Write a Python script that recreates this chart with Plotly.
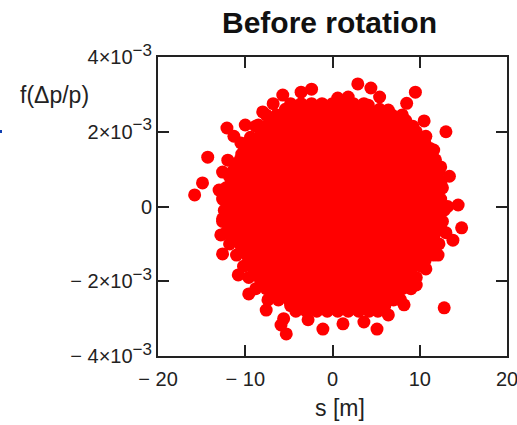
import plotly.graph_objects as go

title = "Before rotation"
x_label = "s [m]"
y_label = "f(Δp/p)"
sup = "<sup><span style='font-size:17px'>−3</span></sup>"
x_ticks = [-20, -10, 0, 10, 20]
x_tick_text = ["− 20", "− 10", "0", "10", "20"]
y_ticks = [-0.004, -0.002, 0, 0.002, 0.004]
y_tick_text = ["− 4×10" + sup, "− 2×10" + sup, "0", "2×10" + sup, "4×10" + sup]

# edge particles (s in m, f in units of 1e-3)
edge_s = [-12.1, -11.3, -10.5, -14.3, -14.9, -15.8, -13.0, -12.6, -12.0, -8.5, -10.0, -8.0,
          -5.7, -3.6, -2.4, 0.6, 1.8, 2.9, 4.4, 5.4, 4.1, 6.4, 8.5, 9.5, 10.5, 10.7, 13.0,
          11.6, 12.4, 13.4, 14.4, 13.2, 14.8, 13.8, 12.1, 10.7, 9.6, 8.2, 6.4, 5.1, 3.6, 1.2,
          -1.1, -2.8, -5.6, -5.9, -5.3, 12.8, -7.6, -9.6, -10.8, -12.6, -12.8, -12.6, -6.8]
edge_f = [2.10, 1.88, 1.70, 1.32, 0.63, 0.31, 0.44, 0.92, 1.24, 2.18, 2.18, 2.53,
          2.98, 3.06, 3.14, 2.90, 2.93, 3.28, 3.17, 2.93, 2.71, 2.58, 2.76, 3.06, 2.29, 1.88, 2.00,
          1.51, 1.06, 0.81, 0.04, 0.00, -0.57, -0.90, -1.30, -1.67, -2.10, -2.63, -2.90, -3.28, -3.09, -3.14,
          -3.28, -3.03, -3.00, -3.17, -3.41, -2.71, -2.77, -2.34, -1.83, -1.27, -0.76, -0.33, 2.75]

# body of the cloud, one list of s values per level of f
core_levels = [2.6, 2.3, 2.0, 1.7, 1.4, 1.1, 0.8, 0.5, 0.2, -0.1, -0.4, -0.7, -1.0, -1.3, -1.6, -1.9, -2.2, -2.5, -2.8]
core_s = [
    [-5.4, -4.2, -3.0, -1.8, -0.6, 0.6, 1.8, 3.0, 4.2, 5.4],
    [-7.0, -5.8, -4.6, -3.4, -2.2, -1.0, 0.2, 1.4, 2.6, 3.8, 5.0, 6.2, 7.4, 8.4],
    [-8.2, -7.0, -5.8, -4.6, -3.4, -2.2, -1.0, 0.2, 1.4, 2.6, 3.8, 5.0, 6.2, 7.4, 8.6, 9.6],
    [-9.4, -8.2, -7.0, -5.8, -4.6, -3.4, -2.2, -1.0, 0.2, 1.4, 2.6, 3.8, 5.0, 6.2, 7.4, 8.6, 9.8, 10.6],
    [-10.4, -9.2, -8.0, -6.8, -5.6, -4.4, -3.2, -2.0, -0.8, 0.4, 1.6, 2.8, 4.0, 5.2, 6.4, 7.6, 8.8, 10.0, 11.0],
    [-11.0, -9.8, -8.6, -7.4, -6.2, -5.0, -3.8, -2.6, -1.4, -0.2, 1.0, 2.2, 3.4, 4.6, 5.8, 7.0, 8.2, 9.4, 10.6, 11.6],
    [-11.8, -10.6, -9.4, -8.2, -7.0, -5.8, -4.6, -3.4, -2.2, -1.0, 0.2, 1.4, 2.6, 3.8, 5.0, 6.2, 7.4, 8.6, 9.8, 11.0, 12.0],
    [-12.2, -11.0, -9.8, -8.6, -7.4, -6.2, -5.0, -3.8, -2.6, -1.4, -0.2, 1.0, 2.2, 3.4, 4.6, 5.8, 7.0, 8.2, 9.4, 10.6, 11.8, 12.6],
    [-12.6, -11.4, -10.2, -9.0, -7.8, -6.6, -5.4, -4.2, -3.0, -1.8, -0.6, 0.6, 1.8, 3.0, 4.2, 5.4, 6.6, 7.8, 9.0, 10.2, 11.4, 12.4],
    [-12.4, -11.2, -10.0, -8.8, -7.6, -6.4, -5.2, -4.0, -2.8, -1.6, -0.4, 0.8, 2.0, 3.2, 4.4, 5.6, 6.8, 8.0, 9.2, 10.4, 11.6, 12.8],
    [-12.6, -11.4, -10.2, -9.0, -7.8, -6.6, -5.4, -4.2, -3.0, -1.8, -0.6, 0.6, 1.8, 3.0, 4.2, 5.4, 6.6, 7.8, 9.0, 10.2, 11.4, 12.6],
    [-12.2, -11.0, -9.8, -8.6, -7.4, -6.2, -5.0, -3.8, -2.6, -1.4, -0.2, 1.0, 2.2, 3.4, 4.6, 5.8, 7.0, 8.2, 9.4, 10.6, 11.8, 13.0],
    [-11.8, -10.6, -9.4, -8.2, -7.0, -5.8, -4.6, -3.4, -2.2, -1.0, 0.2, 1.4, 2.6, 3.8, 5.0, 6.2, 7.4, 8.6, 9.8, 11.0, 12.2],
    [-11.0, -9.8, -8.6, -7.4, -6.2, -5.0, -3.8, -2.6, -1.4, -0.2, 1.0, 2.2, 3.4, 4.6, 5.8, 7.0, 8.2, 9.4, 10.6, 11.6],
    [-10.2, -9.0, -7.8, -6.6, -5.4, -4.2, -3.0, -1.8, -0.6, 0.6, 1.8, 3.0, 4.2, 5.4, 6.6, 7.8, 9.0, 10.2],
    [-9.6, -8.4, -7.2, -6.0, -4.8, -3.6, -2.4, -1.2, 0.0, 1.2, 2.4, 3.6, 4.8, 6.0, 7.2, 8.4, 9.6],
    [-8.8, -7.6, -6.4, -5.2, -4.0, -2.8, -1.6, -0.4, 0.8, 2.0, 3.2, 4.4, 5.6, 6.8, 8.0, 9.0],
    [-7.4, -6.2, -5.0, -3.8, -2.6, -1.4, -0.2, 1.0, 2.2, 3.4, 4.6, 5.8, 7.0, 7.8],
    [-4.2, -3.0, -1.8, -0.6, 0.6, 1.8, 3.0, 4.2, 5.2],
]

# further particles lying between those levels
fill_levels = [2.75, 2.45, 2.15, 1.85, 1.55, 1.25, 0.95, 0.65, 0.35, 0.05, -0.25, -0.55, -0.85, -1.15, -1.45, -1.75, -2.05, -2.35, -2.65]
fill_s = [
    [-4.8, -3.6, -2.4, -1.2, 0.0, 1.2, 2.4, 3.6],
    [-7.6, -6.4, -5.2, -4.0, -2.8, -1.6, -0.4, 0.8, 2.0, 3.2, 4.4, 5.6, 6.8, 8.0],
    [-8.8, -7.6, -6.4, -5.2, -4.0, -2.8, -1.6, -0.4, 0.8, 2.0, 3.2, 4.4, 5.6, 6.8, 8.0, 9.2],
    [-9.4, -8.2, -7.0, -5.8, -4.6, -3.4, -2.2, -1.0, 0.2, 1.4, 2.6, 3.8, 5.0, 6.2, 7.4, 8.6, 9.8, 10.2],
    [-10.0, -8.8, -7.6, -6.4, -5.2, -4.0, -2.8, -1.6, -0.4, 0.8, 2.0, 3.2, 4.4, 5.6, 6.8, 8.0, 9.2, 10.4, 11.2],
    [-10.6, -9.4, -8.2, -7.0, -5.8, -4.6, -3.4, -2.2, -1.0, 0.2, 1.4, 2.6, 3.8, 5.0, 6.2, 7.4, 8.6, 9.8, 11.0, 11.8],
    [-11.4, -10.2, -9.0, -7.8, -6.6, -5.4, -4.2, -3.0, -1.8, -0.6, 0.6, 1.8, 3.0, 4.2, 5.4, 6.6, 7.8, 9.0, 10.2, 11.4, 12.2],
    [-11.6, -10.4, -9.2, -8.0, -6.8, -5.6, -4.4, -3.2, -2.0, -0.8, 0.4, 1.6, 2.8, 4.0, 5.2, 6.4, 7.6, 8.8, 10.0, 11.2, 12.4],
    [-12.0, -10.8, -9.6, -8.4, -7.2, -6.0, -4.8, -3.6, -2.4, -1.2, 0.0, 1.2, 2.4, 3.6, 4.8, 6.0, 7.2, 8.4, 9.6, 10.8, 12.0],
    [-11.8, -10.6, -9.4, -8.2, -7.0, -5.8, -4.6, -3.4, -2.2, -1.0, 0.2, 1.4, 2.6, 3.8, 5.0, 6.2, 7.4, 8.6, 9.8, 11.0, 12.2],
    [-12.0, -10.8, -9.6, -8.4, -7.2, -6.0, -4.8, -3.6, -2.4, -1.2, 0.0, 1.2, 2.4, 3.6, 4.8, 6.0, 7.2, 8.4, 9.6, 10.8, 12.0],
    [-11.8, -10.6, -9.4, -8.2, -7.0, -5.8, -4.6, -3.4, -2.2, -1.0, 0.2, 1.4, 2.6, 3.8, 5.0, 6.2, 7.4, 8.6, 9.8, 11.0, 12.4],
    [-11.2, -10.0, -8.8, -7.6, -6.4, -5.2, -4.0, -2.8, -1.6, -0.4, 0.8, 2.0, 3.2, 4.4, 5.6, 6.8, 8.0, 9.2, 10.4, 11.6],
    [-10.4, -9.2, -8.0, -6.8, -5.6, -4.4, -3.2, -2.0, -0.8, 0.4, 1.6, 2.8, 4.0, 5.2, 6.4, 7.6, 8.8, 10.0, 11.2],
    [-9.6, -8.4, -7.2, -6.0, -4.8, -3.6, -2.4, -1.2, 0.0, 1.2, 2.4, 3.6, 4.8, 6.0, 7.2, 8.4, 9.6, 10.6],
    [-9.0, -7.8, -6.6, -5.4, -4.2, -3.0, -1.8, -0.6, 0.6, 1.8, 3.0, 4.2, 5.4, 6.6, 7.8, 9.0],
    [-8.2, -7.0, -5.8, -4.6, -3.4, -2.2, -1.0, 0.2, 1.4, 2.6, 3.8, 5.0, 6.2, 7.4, 8.4],
    [-6.8, -5.6, -4.4, -3.2, -2.0, -0.8, 0.4, 1.6, 2.8, 4.0, 5.2, 6.4, 7.4],
    [-4.8, -3.6, -2.4, -1.2, 0.0, 1.2, 2.4, 3.6, 4.8, 6.0],
]

xs = list(edge_s)
ys = [v * 1e-3 for v in edge_f]
for level, row in list(zip(core_levels, core_s)) + list(zip(fill_levels, fill_s)):
    xs += row
    ys += [level * 1e-3] * len(row)

fig = go.Figure(go.Scatter(x=xs, y=ys, mode="markers",
                           marker=dict(color="#ff0000", size=13, line=dict(width=0)),
                           cliponaxis=False, showlegend=False))

ax = dict(showgrid=False, zeroline=False, showline=True, linecolor="#222222", linewidth=2,
          mirror="allticks", ticks="inside", ticklen=11, tickwidth=2, tickcolor="#222222",
          automargin=False, ticklabeloverflow="allow",
          tickfont=dict(family="Liberation Sans", size=20, color="#222222"))
fig.update_xaxes(range=[-20, 20], tickmode="array", tickvals=x_ticks, ticktext=x_tick_text,
                 ticklabelstandoff=4, **ax)
fig.update_yaxes(range=[-0.004, 0.004], tickmode="array", tickvals=y_ticks, ticktext=y_tick_text, **ax)

font = dict(family="Liberation Sans", size=23, color="#222222")
fig.add_annotation(text=y_label, xref="paper", yref="paper", x=-0.401, y=0.873, xanchor="left",
                   yanchor="middle", showarrow=False, font=font)
fig.add_annotation(text=x_label, xref="paper", yref="paper", x=0.521, y=-0.174, xanchor="center",
                   yanchor="middle", showarrow=False, font=font)
fig.add_annotation(text="<b>" + title + "</b>", xref="paper", yref="paper", x=0.49, y=1.117,
                   xanchor="center", yanchor="middle", showarrow=False,
                   font=dict(family="Liberation Sans", size=30, color="#111111"))
fig.add_shape(type="rect", xref="paper", yref="paper", x0=-0.4527, x1=-0.447, y0=0.746, y1=0.756,
              fillcolor="#1040b0", line=dict(width=0))

fig.update_layout(width=517, height=425, autosize=False, paper_bgcolor="white", plot_bgcolor="white",
                  margin=dict(l=158, r=10, t=57, b=69))
fig.write_html("out.html", config={"responsive": False, "displayModeBar": False},
               post_script="document.body.style.margin='0';")
